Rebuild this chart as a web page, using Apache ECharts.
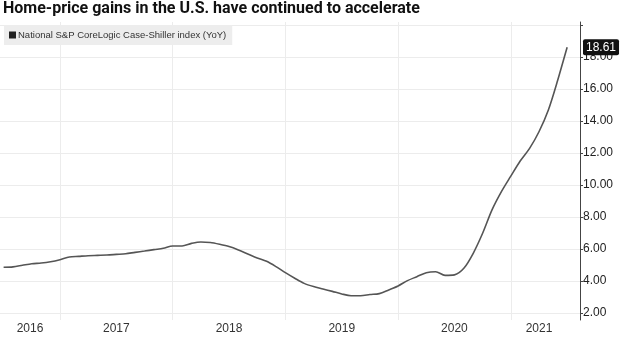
<!DOCTYPE html>
<html lang="en">
<head>
    <meta charset="utf-8"/>
    <title>Home-price gains</title>
    <script src="https://cdn.jsdelivr.net/npm/echarts@6/dist/echarts.min.js"></script>
    <style>
        html, body { margin: 0; padding: 0; background: #fff; }
        #main { width: 620px; height: 351px; }
    </style>
</head>
<body>
<div id="main"></div>
<script>
    // month-end readings, YoY %
    var months = [
        '2016-06', '2016-07', '2016-08', '2016-09', '2016-10', '2016-11', '2016-12',
        '2017-01', '2017-02', '2017-03', '2017-04', '2017-05', '2017-06',
        '2017-07', '2017-08', '2017-09', '2017-10', '2017-11', '2017-12',
        '2018-01', '2018-02', '2018-03', '2018-04', '2018-05', '2018-06',
        '2018-07', '2018-08', '2018-09', '2018-10', '2018-11', '2018-12',
        '2019-01', '2019-02', '2019-03', '2019-04', '2019-05', '2019-06',
        '2019-07', '2019-08', '2019-09', '2019-10', '2019-11', '2019-12',
        '2020-01', '2020-02', '2020-03', '2020-04', '2020-05', '2020-06',
        '2020-07', '2020-08', '2020-09', '2020-10', '2020-11', '2020-12',
        '2021-01', '2021-02', '2021-03', '2021-04', '2021-05', '2021-06'
    ];
    var yoy = [
        4.86, 4.88, 4.98, 5.08, 5.12, 5.20, 5.33,
        5.50, 5.54, 5.58, 5.60, 5.62, 5.66,
        5.70, 5.79, 5.87, 5.96, 6.04, 6.19,
        6.19, 6.35, 6.44, 6.40, 6.29, 6.15,
        5.94, 5.69, 5.44, 5.23, 4.90, 4.52,
        4.17, 3.85, 3.65, 3.50, 3.35, 3.19,
        3.08, 3.08, 3.15, 3.21, 3.44, 3.69,
        4.02, 4.27, 4.52, 4.58, 4.35, 4.38,
        4.79, 5.73, 6.98, 8.44, 9.58, 10.55,
        11.50, 12.29, 13.33, 14.69, 16.56, 18.61
    ];
    var years = [2016, 2017, 2018, 2019, 2020, 2021];
    var yTicks = [2, 4, 6, 8, 10, 12, 14, 16, 18, 20];
    var yLabels = [2, 4, 6, 8, 10, 12, 14, 16, 18];

    var xMin = 2016.468, xMax = 2021.614;

    // month-end as fractional year
    function toX(m) {
        var p = m.split('-');
        return +p[0] + (+p[1]) / 12;
    }
    var points = months.map(function (m, i) { return [toX(m), yoy[i]]; });
    var lastX = points[points.length - 1][0];
    var lastVal = yoy[yoy.length - 1];

    // year labels sit in the middle of the visible part of each year
    var yearCenters = years.map(function (y) {
        var lo = Math.max(y, xMin), hi = Math.min(y + 1, lastX);
        return (lo + hi) / 2;
    });

    var chart = echarts.init(document.getElementById('main'));
    var option = {
        animation: false,
        title: {
            text: 'Home-price gains in the U.S. have continued to accelerate',
            left: 0,
            top: 0,
            padding: [1, 3],
            textStyle: {
                fontFamily: 'Roboto',
                fontWeight: 'bold',
                fontSize: 16,
                color: '#111'
            }
        },
        legend: {
            left: 4,
            top: 25,
            padding: [5, 6, 5, 5],
            backgroundColor: '#ededed',
            icon: 'rect',
            itemWidth: 7,
            itemHeight: 7,
            itemGap: 2,
            textStyle: { fontSize: 9.5, color: '#333', fontFamily: 'Liberation Sans', padding: [0, 0, 0, -3] },
            data: ['National S&P CoreLogic Case-Shiller index (YoY)']
        },
        grid: { left: 0, right: 40, top: 22, bottom: 31 },
        xAxis: {
            type: 'value',
            min: xMin,
            max: xMax,
            axisLine: { show: false },
            axisTick: { show: false, customValues: [2017, 2018, 2019, 2020, 2021] },
            splitLine: { show: true, lineStyle: { color: '#ececec', width: 1 } },
            axisLabel: {
                customValues: yearCenters,
                formatter: function (v) { return Math.floor(v); },
                color: '#333',
                fontSize: 12,
                fontFamily: 'Liberation Sans',
                margin: 3
            }
        },
        yAxis: {
            type: 'value',
            position: 'right',
            min: 1.56,
            max: 20.19,
            axisLine: { show: true, lineStyle: { color: '#444', width: 1 } },
            axisTick: { show: true, length: 3, customValues: yTicks, lineStyle: { color: '#444' } },
            splitLine: { show: true, lineStyle: { color: '#ececec', width: 1 } },
            axisLabel: {
                customValues: yLabels,
                formatter: function (v) { return v.toFixed(2); },
                color: '#222',
                fontSize: 12,
                fontFamily: 'Liberation Sans',
                margin: 3
            },
            axisPointer: {
                show: true,
                status: 'show',
                value: lastVal,
                type: 'none',
                triggerTooltip: false,
                label: {
                    show: true,
                    backgroundColor: '#111',
                    color: '#fff',
                    fontSize: 12,
                    fontFamily: 'Liberation Sans',
                    padding: [2, 3],
                    borderRadius: 2,
                    formatter: function (p) { return (+p.value).toFixed(2); }
                }
            }
        },
        series: [{
            name: 'National S&P CoreLogic Case-Shiller index (YoY)',
            type: 'line',
            data: points,
            showSymbol: false,
            smooth: 0.3,
            color: '#222',
            lineStyle: { color: '#555', width: 1.6 }
        }]
    };
    chart.setOption(option);
</script>
</body>
</html>
